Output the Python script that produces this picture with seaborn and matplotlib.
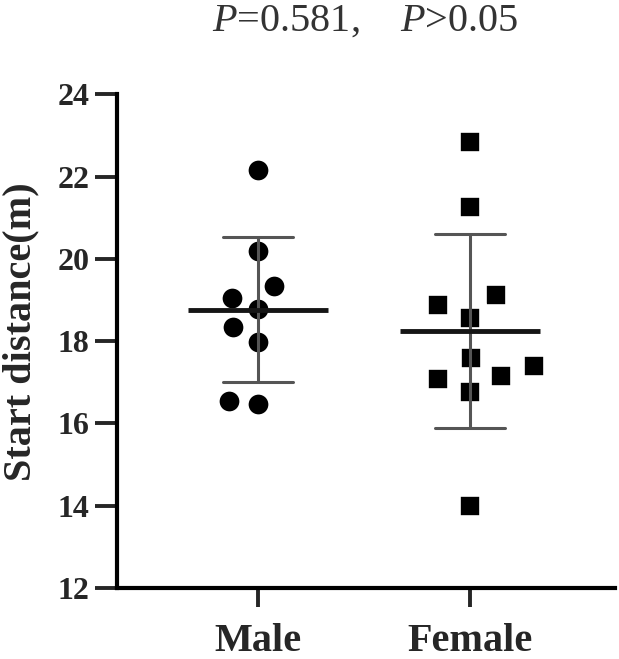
# -------------------------------------------------------
# Start distance by sex: scatter with mean +/- SD
# -------------------------------------------------------
import pandas as pd
import numpy as np
import matplotlib
matplotlib.use("Agg")
import matplotlib.pyplot as plt
import seaborn as sns

# data
groups = ["Male", "Female"]
male_dist = [22.16, 20.18, 19.33, 19.06, 18.77, 18.34, 17.98, 16.55, 16.48]
female_dist = [22.85, 21.26, 19.11, 18.89, 18.57, 17.58, 17.39, 17.16, 17.08, 16.77, 14.00]
y_ticks = [12, 14, 16, 18, 20, 22, 24]
title_txt = r"$P$=0.581,    $P$>0.05"
y_label = "Start distance(m)"

df = pd.DataFrame({
    "sex": ["Male"] * len(male_dist) + ["Female"] * len(female_dist),
    "dist": male_dist + female_dist,
})

sns.set_style("ticks")
plt.rcParams["font.family"] = ["Liberation Serif", "DejaVu Serif"]
plt.rcParams["mathtext.fontset"] = "custom"
plt.rcParams["mathtext.it"] = "Liberation Serif:italic"
plt.rcParams["mathtext.rm"] = "Liberation Serif"

fig = plt.figure(figsize=(6.19, 6.59), dpi=100)
ax = fig.add_axes([117 / 619, 71 / 659, 498 / 619, 493.7 / 659])

# individual points (white edge only widens the swarm spacing)
sns.swarmplot(data=df[df["sex"] == "Male"], x="sex", y="dist", order=groups,
              marker="o", color="black", size=17, linewidth=2.8,
              edgecolor="white", ax=ax, zorder=2)
sns.swarmplot(data=df[df["sex"] == "Female"], x="sex", y="dist", order=groups,
              marker="s", color="black", size=18.5, linewidth=5.5,
              edgecolor="white", ax=ax, zorder=2)

# mean line and SD bars
sns.pointplot(data=df, x="sex", y="dist", order=groups, errorbar="sd",
              color="#151515", linestyle="none", marker="_", markersize=101,
              markeredgewidth=3.5, capsize=0.33,
              err_kws={"color": "#555555", "linewidth": 2.2, "zorder": 4},
              ax=ax, zorder=5)

ax.set_xlim(-0.663, 1.683)
ax.set_ylim(12, 24)
ax.set_yticks(y_ticks)
ax.set_xlabel("")
ax.set_ylabel(y_label, fontsize=29, fontweight="bold")
ax.yaxis.set_label_coords(-0.155, 0.52)

for side in ["top", "right"]:
    ax.spines[side].set_visible(False)
for side in ["left", "bottom"]:
    ax.spines[side].set_linewidth(3)
    ax.spines[side].set_color("black")

ax.tick_params(axis="y", length=16, width=2.8, pad=4, labelsize=23)
ax.tick_params(axis="x", length=14, width=2.8, pad=11, labelsize=29)
for lab in ax.get_yticklabels() + ax.get_xticklabels():
    lab.set_fontweight("bold")

fig.text(365 / 619, 1 - 21 / 659, title_txt, fontsize=29, ha="center",
         va="center", color="#333333")

fig.savefig("out.png", dpi=100)
